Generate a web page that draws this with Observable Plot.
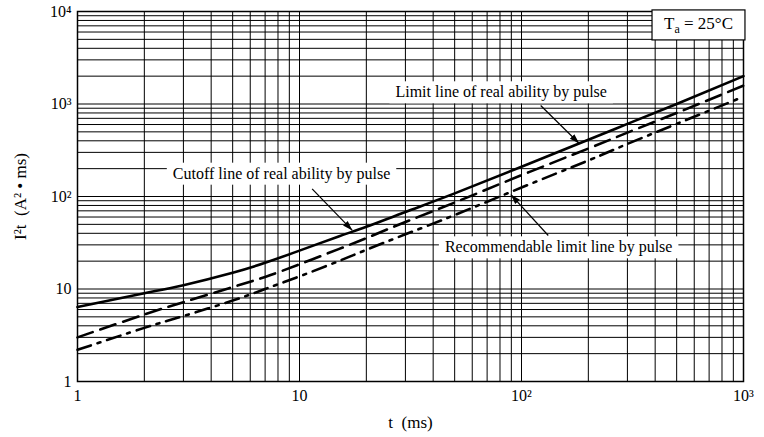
<!DOCTYPE html>
<html><head><meta charset="utf-8">
<script src="https://cdn.jsdelivr.net/npm/d3@7"></script>
<script src="https://cdn.jsdelivr.net/npm/@observablehq/plot@0.6"></script>
<style>
body{margin:0;background:#fff;}
svg{font-family:"Liberation Serif","Times New Roman",serif;}
</style>
</head><body><div id="chart"></div>
<script>
// ---- data ----
const timeMs        = [1, 2, 3, 5, 7, 10, 15, 20, 30, 50, 100, 200, 300, 500, 1000];
const cutoffLine    = [6.4, 9.0, 11.0, 15.0, 19.2, 26, 37, 47, 68, 108, 210, 410, 610, 1000, 2000];
const limitLine     = [3.0, 5.3, 7.2, 10.5, 13.5, 18.5, 27, 35.5, 53, 86, 170, 330, 490, 800, 1580];
const recommendLine = [2.2, 3.8, 5.1, 7.5, 10, 13.7, 20, 26.5, 39, 63, 125, 245, 370, 610, 1200];

const xTicks = [1, 10, 100, 1000];
const xTickLabels = ["1", "10", "10\u00B2", "10\u00B3"];
const yTicks = [1, 10, 100, 1000, 10000];
const yTickLabels = ["1", "10", "10\u00B2", "10\u00B3", "10\u2074"];

const labelTexts = ["Cutoff line of real ability by pulse", "Limit line of real ability by pulse", "Recommendable limit line by pulse"];
const labelT = [8.3, 81, 147];
const labelV = [177, 1342, 28.3];

const arrowFromT = [11.4, 122, 132];
const arrowFromV = [121, 963, 37.9];
const arrowToT   = [17.3, 182, 89.5];
const arrowToV   = [43, 374, 105];

const tempLabel = "Ta = 25°C";
const tempT = [627];
const tempV = [7420];

// ---- tables built from the arrays ----
const rows = [];
timeMs.forEach((t, i) => {
  rows.push({series: "cutoff", t, v: cutoffLine[i]});
  rows.push({series: "limit", t, v: limitLine[i]});
  rows.push({series: "recommend", t, v: recommendLine[i]});
});
const labels = labelTexts.map((text, i) => ({text, t: labelT[i], v: labelV[i]}));
const arrows = arrowFromT.map((_, i) => ({x1: arrowFromT[i], y1: arrowFromV[i], x2: arrowToT[i], y2: arrowToV[i]}));
const temp = [{text: tempLabel, t: tempT[0], v: tempV[0]}];

const xGrid = d3.scaleLog().domain([1, 1000]).ticks();
const yGrid = d3.scaleLog().domain([1, 10000]).ticks();

function filledArrow(color, context) {
  const doc = (context && context.document) || document;
  const ns = "http://www.w3.org/2000/svg";
  const m = doc.createElementNS(ns, "marker");
  m.setAttribute("viewBox", "-10 -4 10 8");
  m.setAttribute("markerWidth", "10");
  m.setAttribute("markerHeight", "8");
  m.setAttribute("markerUnits", "userSpaceOnUse");
  m.setAttribute("orient", "auto");
  m.setAttribute("fill", "#000");
  m.setAttribute("stroke", "none");
  const p = doc.createElementNS(ns, "path");
  p.setAttribute("d", "M-10,-3.2L0,0L-10,3.2Z");
  m.appendChild(p);
  return m;
}

const plot = Plot.plot({
  width: 764,
  height: 437,
  marginLeft: 77,
  marginRight: 21,
  marginTop: 11,
  marginBottom: 56,
  style: {fontFamily: "Liberation Serif, Times New Roman, serif", fontSize: "16px", color: "#000", background: "#fff", overflow: "visible"},
  x: {type: "log", domain: [1, 1000], ticks: xTicks, tickFormat: d => xTickLabels[xTicks.indexOf(d)], tickSize: 0, tickPadding: 8,
      label: "t  (ms)", labelAnchor: "center", labelOffset: 46, labelArrow: "none"},
  y: {type: "log", domain: [1, 10000], ticks: yTicks, tickFormat: d => yTickLabels[yTicks.indexOf(d)], tickSize: 0, tickPadding: 6,
      label: "I\u00B2t  (A\u00B2 \u2022 ms)", labelAnchor: "center", labelOffset: 64, labelArrow: "none"},
  marks: [
    Plot.ruleX(xGrid, {stroke: "#000", strokeWidth: 1}),
    Plot.ruleY(yGrid, {stroke: "#000", strokeWidth: 1}),
    Plot.line(rows.filter(d => d.series === "cutoff"), {x: "t", y: "v", stroke: "#000", strokeWidth: 2.6, curve: "natural"}),
    Plot.line(rows.filter(d => d.series === "limit"), {x: "t", y: "v", stroke: "#000", strokeWidth: 2.6, strokeDasharray: "16,8", curve: "natural"}),
    Plot.line(rows.filter(d => d.series === "recommend"), {x: "t", y: "v", stroke: "#000", strokeWidth: 2.6, strokeDasharray: "14,7,3,7", curve: "natural"}),
    Plot.frame({stroke: "#000", strokeWidth: 1.5}),
    Plot.text(labels, {x: "t", y: "v", text: "text", fontSize: 16, fill: "#000", className: "ann"}),
    Plot.text(temp, {x: "t", y: "v", text: "text", fontSize: 17, fill: "#000", className: "temp"}),
    Plot.link(arrows, {x1: "x1", y1: "y1", x2: "x2", y2: "y2", stroke: "#000", strokeWidth: 1.2, markerEnd: filledArrow})
  ]
});
document.getElementById("chart").appendChild(plot);

// larger axis titles
plot.querySelectorAll("[aria-label='x-axis label'], [aria-label='y-axis label']").forEach(g => g.setAttribute("font-size", "17"));

// subscript "a" in the temperature label
const ns = "http://www.w3.org/2000/svg";
plot.querySelectorAll("g.temp text").forEach(t => {
  t.textContent = "";
  const a = document.createElementNS(ns, "tspan"); a.textContent = "T"; t.appendChild(a);
  const b = document.createElementNS(ns, "tspan"); b.textContent = "a"; b.setAttribute("font-size", "12"); b.setAttribute("dy", "4"); t.appendChild(b);
  const c = document.createElementNS(ns, "tspan"); c.textContent = " = 25°C"; c.setAttribute("dy", "-4"); t.appendChild(c);
});

// white boxes behind annotation labels (same transform as each text)
function boxes(selector, padX, padY, stroke) {
  const g = plot.querySelector(selector);
  if (!g) return;
  const bg = document.createElementNS(ns, "g");
  const gt = g.getAttribute("transform");
  if (gt) bg.setAttribute("transform", gt);
  g.querySelectorAll("text").forEach(t => {
    const b = t.getBBox();
    const r = document.createElementNS(ns, "rect");
    r.setAttribute("x", b.x - padX);
    r.setAttribute("y", b.y - padY);
    r.setAttribute("width", b.width + 2 * padX);
    r.setAttribute("height", b.height + 2 * padY);
    const tt = t.getAttribute("transform");
    if (tt) r.setAttribute("transform", tt);
    r.setAttribute("fill", "#fff");
    r.setAttribute("stroke", stroke);
    r.setAttribute("stroke-width", stroke === "none" ? 0 : 1.2);
    bg.appendChild(r);
  });
  g.parentNode.insertBefore(bg, g);
}
boxes("g.ann", 6, 2, "none");
boxes("g.temp", 12, 4, "#000");
</script>
</body></html>
